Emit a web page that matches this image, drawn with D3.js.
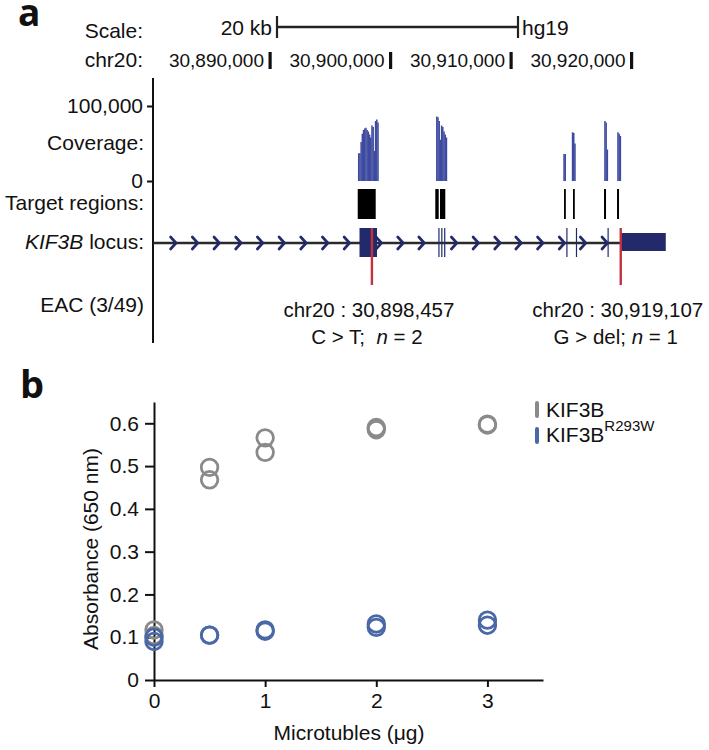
<!DOCTYPE html>
<html><head><meta charset="utf-8">
<script src="https://cdn.jsdelivr.net/npm/d3@7"></script>
<style>
body{margin:0;background:#fff}
svg text{font-family:"Liberation Sans",Arial,Helvetica,sans-serif;fill:#111;white-space:pre}
</style></head><body>
<svg id="c" width="709" height="750"></svg>
<script>
// ================= Panel a data =================
const rulerTicks = [30890000, 30900000, 30910000, 30920000];
const scaleBarBp = 20000;
const covTicks = [0, 100000];
const covBinBp = 100;
const covStarts = [30897300, 30903780, 30914340, 30915046, 30917734, 30918814];
const covDepthsK = [
  [37,37,52,63,68,70,71,68,66,62,58,74,72,40,80,82,78],
  [86,85,80,55,74,72,66,62,58],
  [36,36],
  [65,64,50],
  [80,78,42],
  [65,63,60]
];
const targetStarts = [30897280, 30903718, 30904108, 30914400, 30915145, 30917720, 30918800];
const targetEnds   = [30898772, 30904000, 30904548, 30914540, 30915285, 30917885, 30918965];
const exonStarts = [30897427, 30903970, 30904210, 30904450, 30914590, 30915385, 30918010, 30919110];
const exonEnds   = [30898880, 30904030, 30904270, 30904510, 30914650, 30915445, 30918070, 30922845];
const exonKinds  = ["cds","cds","cds","cds","cds","cds","cds","utr"];
const strandArrows = [30882000, 30883800, 30885600, 30887400, 30889200, 30891000, 30892800, 30894600,
  30896400, 30899050, 30900850, 30902600, 30905300, 30907100, 30908900, 30910650, 30912450,
  30914250, 30916000, 30917800];
const variantPos = [30898457, 30919107];
const variantPre = ["C > T;  ", "G > del; "];
const variantN   = [2, 1];
const rowLabels  = ["Coverage:", "Target regions:", "EAC (3/49)"];

// ================= Panel b data =================
const doses   = [0, 0.5, 1, 2, 3];
const wtRep1  = [0.117, 0.497, 0.566, 0.590, 0.598];
const wtRep2  = [0.104, 0.468, 0.532, 0.585, 0.596];
const mutRep1 = [0.100, 0.105, 0.117, 0.131, 0.140];
const mutRep2 = [0.090, 0.105, 0.114, 0.123, 0.128];
const seriesNames = ["KIF3B", "KIF3B"];
const seriesSup = ["", "R293W"];
const xTicksB = [0, 1, 2, 3];
const yTicksB = [0, 0.1, 0.2, 0.3, 0.4, 0.5, 0.6];

const svg = d3.select("#c");
const F = 21;
const navy = "#232a6c", covBlue = "#3e4a9f", red = "#c4303b";
const gray = "#8a8a8a", blue = "#4a68a6";

// ---------- Panel a ----------
const gx = d3.scaleLinear().domain([30890000, 30920000]).range([270, 631.5]);
const axisX = 153, labelX = 144;
const a = svg.append("g");
a.append("text").attr("x", 18).attr("y", 26).attr("font-size", 37).attr("font-weight", 700)
  .style("font-family", "'Open Sans',sans-serif").text("a");

// scale bar
const trackMid = (axisX + 642) / 2;
const sbHalf = (gx(gx.domain()[0] + scaleBarBp) - gx(gx.domain()[0])) / 2;
const sb0 = trackMid - sbHalf, sb1 = trackMid + sbHalf;
a.append("text").attr("x", labelX - 1).attr("y", 38).attr("text-anchor", "end").attr("font-size", F).text("Scale:");
a.append("line").attr("x1", sb0).attr("x2", sb1).attr("y1", 27).attr("y2", 27).attr("stroke", "#222").attr("stroke-width", 2.4);
[sb0, sb1].forEach(v => a.append("line").attr("x1", v).attr("x2", v).attr("y1", 16).attr("y2", 38).attr("stroke", "#222").attr("stroke-width", 2.2));
a.append("text").attr("x", sb0 - 5).attr("y", 35).attr("text-anchor", "end").attr("font-size", F).text((scaleBarBp / 1000) + " kb");
a.append("text").attr("x", sb1 + 4).attr("y", 35).attr("font-size", F).text("hg19");

// ruler
a.append("text").attr("x", labelX - 1).attr("y", 67).attr("text-anchor", "end").attr("font-size", F).text("chr20:");
const fmt = d3.format(",");
rulerTicks.forEach(t => {
  a.append("rect").attr("x", gx(t) - 1.5).attr("y", 52).attr("width", 3.2).attr("height", 17).attr("fill", "#111");
  a.append("text").attr("x", gx(t) - 6).attr("y", 67).attr("text-anchor", "end").attr("font-size", 19).text(fmt(t));
});

// left axis
a.append("line").attr("x1", axisX).attr("x2", axisX).attr("y1", 78).attr("y2", 343).attr("stroke", "#111").attr("stroke-width", 2);
const cy = d3.scaleLinear().domain([0, 100000]).range([181, 106]);
const covAxis = d3.axisLeft(cy).tickValues(covTicks).tickFormat(fmt).tickSize(6).tickPadding(4);
const cg = a.append("g").attr("transform", `translate(${axisX},0)`).call(covAxis);
cg.select(".domain").remove();
cg.selectAll("line").attr("stroke", "#111").attr("stroke-width", 2);
cg.selectAll("text").attr("font-size", F).style("font-family", "'Liberation Sans',Arial,sans-serif").attr("fill", "#111");

a.append("text").attr("x", labelX).attr("y", 150).attr("text-anchor", "end").attr("font-size", F).text(rowLabels[0]);
a.append("text").attr("x", labelX).attr("y", 210).attr("text-anchor", "end").attr("font-size", F).text(rowLabels[1]);
const kl = a.append("text").attr("x", labelX).attr("y", 249).attr("text-anchor", "end").attr("font-size", F);
kl.append("tspan").attr("font-style", "italic").text("KIF3B");
kl.append("tspan").text(" locus:");
a.append("text").attr("x", labelX).attr("y", 312).attr("text-anchor", "end").attr("font-size", F).text(rowLabels[2]);

// coverage bars
covStarts.forEach((s, ci) => {
  a.append("g").selectAll("rect").data(covDepthsK[ci]).join("rect")
    .attr("x", (d, i) => gx(s + i * covBinBp))
    .attr("width", gx(s + covBinBp) - gx(s) + 0.3)
    .attr("y", d => cy(d * 1000))
    .attr("height", d => cy(0) - cy(d * 1000))
    .attr("fill", covBlue);
});

// target regions
a.append("g").selectAll("rect").data(targetStarts).join("rect")
  .attr("x", (d) => gx(d)).attr("width", (d, i) => Math.max(1.8, gx(targetEnds[i]) - gx(d)))
  .attr("y", 189).attr("height", 30).attr("fill", "#000");

// gene line
const lineY = 243;
a.append("line").attr("x1", axisX).attr("x2", gx(exonStarts[exonStarts.length - 1])).attr("y1", lineY).attr("y2", lineY)
  .attr("stroke", "#2a2a2a").attr("stroke-width", 2.4);
// strand chevrons
a.append("g").selectAll("path").data(strandArrows).join("path")
  .attr("d", p => { const x = gx(p); return `M${x - 3},${lineY - 6} L${x + 2.5},${lineY} L${x - 3},${lineY + 6}`; })
  .attr("fill", "none").attr("stroke", navy).attr("stroke-width", 2.7).attr("stroke-linecap", "round");
// exons
a.append("g").selectAll("rect").data(exonStarts).join("rect")
  .attr("x", d => gx(d))
  .attr("width", (d, i) => Math.max(1.2, gx(exonEnds[i]) - gx(d)))
  .attr("y", (d, i) => exonKinds[i] === "cds" ? 228 : 233)
  .attr("height", (d, i) => exonKinds[i] === "cds" ? 29 : 18)
  .attr("fill", navy);

// variants
variantPos.forEach((p, i) => {
  a.append("line").attr("x1", gx(p)).attr("x2", gx(p)).attr("y1", 228).attr("y2", 285).attr("stroke", red).attr("stroke-width", 2.4);
  a.append("text").attr("x", gx(p) - 3).attr("y", 317).attr("text-anchor", "middle").attr("font-size", 20.5)
    .text("chr20 : " + fmt(p));
  const t = a.append("text").attr("x", gx(p) - 5).attr("y", 344).attr("text-anchor", "middle").attr("font-size", 20.5);
  t.append("tspan").text(variantPre[i]);
  t.append("tspan").attr("font-style", "italic").text("n");
  t.append("tspan").text(" = " + variantN[i]);
});

// ---------- Panel b ----------
const b = svg.append("g");
b.append("text").attr("x", 20).attr("y", 398).attr("font-size", 38).attr("font-weight", 700)
  .style("font-family", "'Open Sans',sans-serif").text("b");
const x = d3.scaleLinear().domain([0, 3.5]).range([154, 543]);
const y = d3.scaleLinear().domain([0, 0.65]).range([680, 401.9]);
const xa = b.append("g").attr("transform", "translate(0,680)")
  .call(d3.axisBottom(x).tickValues(xTicksB).tickFormat(d3.format("d")).tickSize(7).tickSizeOuter(0).tickPadding(6));
const ya = b.append("g").attr("transform", "translate(154,0)")
  .call(d3.axisLeft(y).tickValues(yTicksB).tickFormat(d => d === 0 ? "0" : d3.format(".1f")(d)).tickSize(9).tickSizeOuter(0).tickPadding(6));
[xa, ya].forEach(g => {
  g.select(".domain").attr("stroke", "#111").attr("stroke-width", 2);
  g.selectAll(".tick line").attr("stroke", "#111").attr("stroke-width", 2);
  g.selectAll("text").attr("font-size", F).attr("fill", "#111").style("font-family", "'Liberation Sans',Arial,sans-serif");
});
b.append("text").attr("x", 349).attr("y", 740).attr("text-anchor", "middle").attr("font-size", F).text("Microtubles (\u03bcg)");
b.append("text").attr("transform", "translate(98,549) rotate(-90)").attr("text-anchor", "middle").attr("font-size", F)
  .text("Absorbance (650 nm)");

function pts(vals, col) {
  b.append("g").selectAll("circle").data(vals).join("circle")
    .attr("cx", (d, i) => x(doses[i])).attr("cy", d => y(d)).attr("r", 8.3)
    .attr("fill", "none").attr("stroke", col).attr("stroke-width", 2.8);
}
pts(wtRep1, gray); pts(wtRep2, gray);
pts(mutRep1, blue); pts(mutRep2, blue);

// legend
[gray, blue].forEach((c, i) => {
  b.append("rect").attr("x", 535).attr("y", 401 + i * 26).attr("width", 4).attr("height", 17).attr("rx", 2).attr("fill", c);
  const t = b.append("text").attr("x", 546).attr("y", 417 + i * 25).attr("font-size", F);
  t.append("tspan").text(seriesNames[i]);
  if (seriesSup[i]) t.append("tspan").attr("dy", -11).attr("font-size", 15).text(seriesSup[i]);
});
</script>
</body></html>
